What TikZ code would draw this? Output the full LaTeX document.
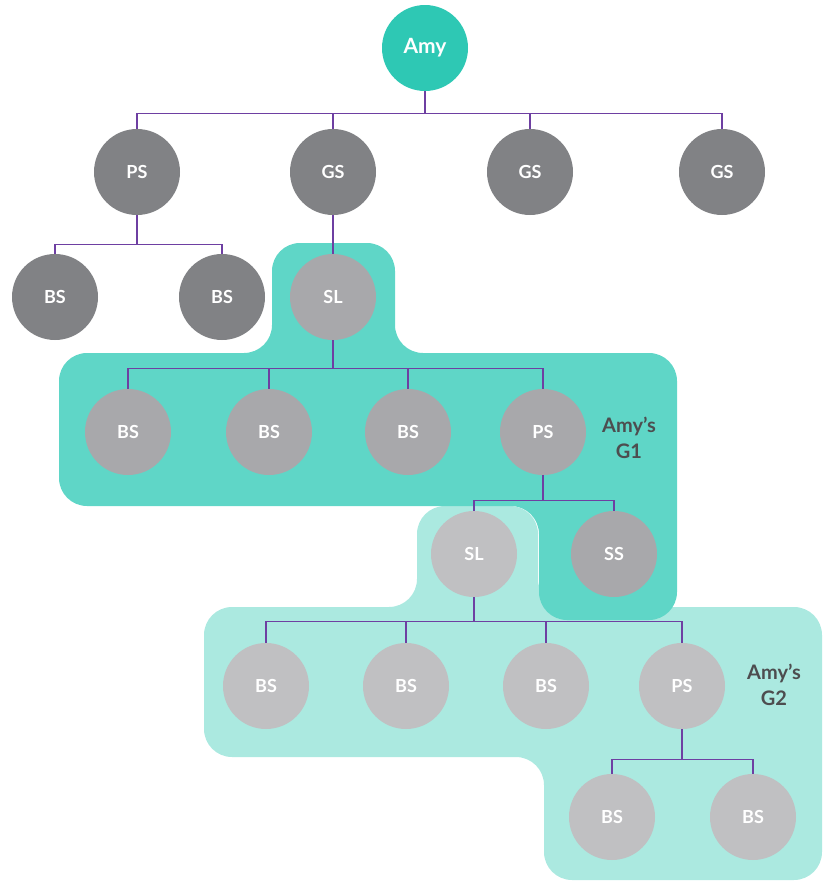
\documentclass[tikz,border=0pt]{standalone}
\usepackage{fontspec}
\setmainfont{Lato}
\usepackage{tikz}
\usepackage{xcolor}

\definecolor{amyteal}{HTML}{2EC8B4}
\definecolor{darkgrey}{HTML}{818285}
\definecolor{midgrey}{HTML}{A8A8AB}
\definecolor{lightgrey}{HTML}{C0C0C2}
\definecolor{gone}{HTML}{5FD6C7}
\definecolor{gtwo}{HTML}{ABE9E0}
\definecolor{busline}{HTML}{6E3FA2}
\definecolor{labeltext}{HTML}{4D4D4F}

\tikzset{
	member/.style={circle, minimum size=86pt, inner sep=0pt, text=white, font=\bfseries\fontsize{18}{21}\selectfont},
	bus/.style={draw=busline, line width=1.4pt},
	grouplabel/.style={align=center, text=labeltext, font=\bfseries\fontsize{20}{26}\selectfont},
}

\begin{document}
\begin{tikzpicture}[x=1pt,y=-1pt]
	\useasboundingbox (0,0) rectangle (827,881);

	% G2 first, G1 lies over it
	\fill[gtwo, rounded corners=28pt]
		(478,506) -- (538,506) -- (538,607) -- (822,607) -- (822,880) -- (544,880)
		-- (544,757) -- (204,757) -- (204,607) -- (417,607) -- (417,506) -- cycle;
	\fill[gone, rounded corners=28pt]
		(333,243) -- (395,243) -- (395,353) -- (677,353) -- (677,620) -- (539,620)
		-- (539,506) -- (59,506) -- (59,353) -- (272,353) -- (272,243) -- cycle;

	\node[member, fill=amyteal, font=\bfseries\fontsize{21}{24}\selectfont] (amy) at (425,48) {Amy};

	\node[member, fill=darkgrey] (ps) at (137,172) {PS};
	\node[member, fill=darkgrey] (gs1) at (333,172) {GS};
	\node[member, fill=darkgrey] (gs2) at (530,172) {GS};
	\node[member, fill=darkgrey] (gs3) at (722,172) {GS};

	\node[member, fill=darkgrey] (bs1) at (55,297) {BS};
	\node[member, fill=darkgrey] (bs2) at (222,297) {BS};
	\node[member, fill=midgrey] (sl) at (333,297) {SL};

	\node[member, fill=midgrey] (bs3) at (128,432) {BS};
	\node[member, fill=midgrey] (bs4) at (269,432) {BS};
	\node[member, fill=midgrey] (bs5) at (408,432) {BS};
	\node[member, fill=midgrey] (ps2) at (543,432) {PS};

	\node[member, fill=lightgrey] (sl2) at (474,554) {SL};
	\node[member, fill=midgrey] (ss) at (614,554) {SS};

	\node[member, fill=lightgrey] (bs6) at (266,686) {BS};
	\node[member, fill=lightgrey] (bs7) at (406,686) {BS};
	\node[member, fill=lightgrey] (bs8) at (546,686) {BS};
	\node[member, fill=lightgrey] (ps3) at (682,686) {PS};

	\node[member, fill=lightgrey] (bs9) at (612,817) {BS};
	\node[member, fill=lightgrey] (bs10) at (753,817) {BS};

	\node[grouplabel] (g1) at (629,438) {Amy’s\\G1};
	\node[grouplabel] (g2) at (774,685) {Amy’s\\G2};

	\draw[bus]
		(amy.south) -- ++(0,22) -| (ps.north)
		(amy.south) -- ++(0,22) -| (gs1.north)
		(amy.south) -- ++(0,22) -| (gs2.north)
		(amy.south) -- ++(0,22) -| (gs3.north)
		(ps.south) -- ++(0,29) -| (bs1.north)
		(ps.south) -- ++(0,29) -| (bs2.north)
		(gs1) -- (sl)
		(sl.south) -- ++(0,28) -| (bs3.north)
		(sl.south) -- ++(0,28) -| (bs4.north)
		(sl.south) -- ++(0,28) -| (bs5.north)
		(sl.south) -- ++(0,28) -| (ps2.north)
		(ps2.south) -- ++(0,25) -| (sl2.north)
		(ps2.south) -- ++(0,25) -| (ss.north)
		(sl2.south) -- ++(0,24) -| (bs6.north)
		(sl2.south) -- ++(0,24) -| (bs7.north)
		(sl2.south) -- ++(0,24) -| (bs8.north)
		(sl2.south) -- ++(0,24) -| (ps3.north)
		(ps3.south) -- ++(0,30) -| (bs9.north)
		(ps3.south) -- ++(0,30) -| (bs10.north)
	;
\end{tikzpicture}
\end{document}
